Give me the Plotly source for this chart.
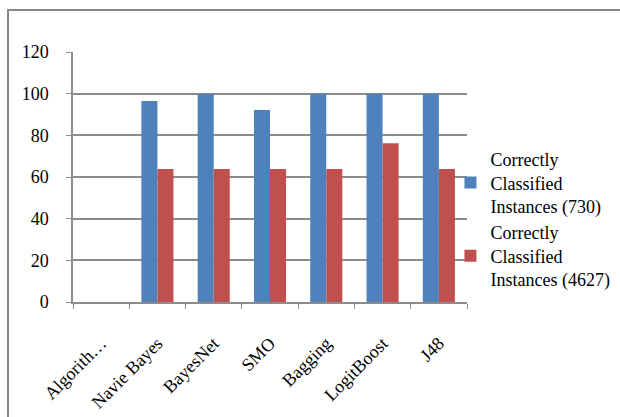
import plotly.graph_objects as go

categories = ["Algorith…", "Navie Bayes", "BayesNet", "SMO", "Bagging", "LogitBoost", "J48"]
series1_name = "Correctly<br>Classified<br>Instances (730)"
series2_name = "Correctly<br>Classified<br>Instances (4627)"
series1 = [None, 96.5, 100, 92.2, 100, 100, 100]
series2 = [None, 63.8, 63.8, 63.8, 63.8, 76.2, 63.8]
y_ticks = [0, 20, 40, 60, 80, 100, 120]

FONT = "Liberation Serif"
GRID = "#8c8c8c"

fig = go.Figure()
fig.add_trace(go.Bar(x=categories, y=series1, name=series1_name,
                     marker=dict(color="#4F81BD", line=dict(width=0))))
fig.add_trace(go.Bar(x=categories, y=series2, name=series2_name,
                     marker=dict(color="#C0504D", line=dict(width=0))))

# plot area: x 73..467, y 52..302 in a 620x417 page
L, R, T, B = 73, 153, 52, 115
pw, ph = 620 - L - R, 417 - T - B

fig.update_layout(
    width=620, height=417,
    margin=dict(l=L, r=R, t=T, b=B, pad=0, autoexpand=False),
    paper_bgcolor="white", plot_bgcolor="white",
    barmode="group", bargap=0.43, bargroupgap=0,
    font=dict(family=FONT, size=18, color="black"),
    showlegend=True,
    legend=dict(x=0.958, xanchor="left", y=0.33, yanchor="middle",
                font=dict(family=FONT, size=18, color="black"),
                itemwidth=30, tracegroupgap=0, bgcolor="rgba(0,0,0,0)"),
    xaxis=dict(type="category", tickangle=-45, showgrid=False, automargin=False,
               showline=True, linecolor=GRID, linewidth=1.5,
               ticks="outside", tickson="boundaries", ticklen=5, tickcolor=GRID,
               tickfont=dict(family=FONT, size=18, color="black"),
               ticklabelstandoff=22),
    yaxis=dict(range=[0, 120], tickvals=y_ticks, showgrid=True, gridcolor=GRID, gridwidth=1.5,
               automargin=False,
               showline=True, linecolor=GRID, linewidth=1.5, zeroline=False,
               ticks="outside", ticklen=5, tickcolor=GRID,
               tickfont=dict(family=FONT, size=18, color="black"),
               ticklabelstandoff=14),
)

# outer chart frame (left and top edges visible in the reference)
fig.add_shape(type="rect", xref="paper", yref="paper",
              x0=(8 - L) / pw, x1=(640 - L) / pw,
              y0=-(440 - (417 - B)) / ph, y1=1 + (T - 10) / ph,
              line=dict(color="#888888", width=2), fillcolor="rgba(0,0,0,0)", layer="below")

fig.write_html("out.html")
